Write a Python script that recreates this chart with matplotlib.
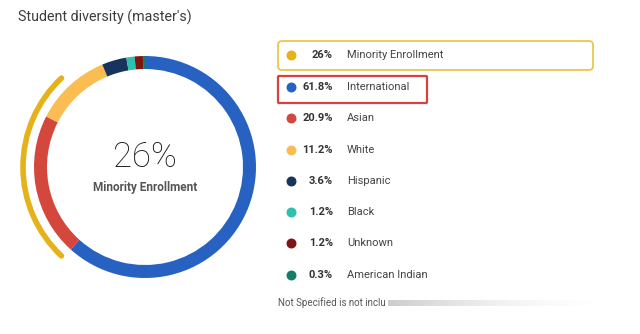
import matplotlib.pyplot as plt
from matplotlib.patches import Arc, FancyBboxPatch
import numpy as np

# data
groups = ['International', 'Asian', 'White', 'Hispanic', 'Black', 'Unknown', 'American Indian']
shares = [61.8, 20.9, 11.2, 3.6, 1.2, 1.2, 0.3]
group_colors = ['#2762c2', '#d3473d', '#fbbd52', '#17335e', '#2cc0ad', '#7b1712', '#177d6b']
legend_order = ['International', 'Asian', 'White', 'Hispanic', 'Black', 'Unknown', 'American Indian']
minority_share = 26
minority_color = '#e5b21a'

plt.rcParams['font.family'] = ['Roboto', 'DejaVu Sans']

fig = plt.figure(figsize=(6.4, 3.34), dpi=100)
W, H = 640, 334

# overlay axes in pixel coordinates for the text parts
bg = fig.add_axes([0, 0, 1, 1])
bg.set_xlim(0, W)
bg.set_ylim(H, 0)
bg.axis('off')

bg.text(18, 17, "Student diversity (master's)", fontsize=10.3, color='#3c3c3c',
        va='center', ha='left')

# donut
cx, cy, half = 145, 167, 130
ax = fig.add_axes([(cx - half) / W, (H - cy - half) / H, 2 * half / W, 2 * half / H])
ax.pie(shares, colors=group_colors, startangle=90, counterclock=False,
       radius=1.11, wedgeprops=dict(width=0.13, edgecolor='none'))
span = minority_share * 3.6
arc = Arc((0, 0), 2 * 1.22, 2 * 1.22, theta1=180 - span / 2, theta2=180 + span / 2,
          color=minority_color, lw=4, capstyle='round')
ax.add_patch(arc)
ax.set_xlim(-1.3, 1.3)
ax.set_ylim(-1.3, 1.3)
ax.set_aspect('equal')
ax.axis('off')

ax.text(0, 0.1, f'{minority_share}%', fontsize=25, color='#1a1a1a', ha='center',
        va='center', fontweight='light')
ax.text(0, -0.2, 'Minority Enrollment', fontsize=8.5, color='#555555', ha='center',
        va='center', fontweight='bold')

# legend rows
row_y = [55, 87, 118, 150, 181, 212, 243, 275]
rows = [('Minority Enrollment', minority_share, minority_color)]
for g in legend_order:
    i = groups.index(g)
    rows.append((g, shares[i], group_colors[i]))

bg.add_patch(FancyBboxPatch((278, 41), 315, 29, boxstyle='round,pad=0,rounding_size=4',
                            fc='none', ec='#e8c84a', lw=1.3))
bg.add_patch(FancyBboxPatch((278, 76), 149, 27, boxstyle='round,pad=0,rounding_size=1',
                            fc='none', ec='#d9403f', lw=1.6))

for (name, val, col), y in zip(rows, row_y):
    bg.scatter([291], [y], s=38, color=col, zorder=3)
    label = f'{val:g}%'
    bg.text(333, y, label, fontsize=8, fontweight='bold', color='#333333',
            ha='right', va='center')
    bg.text(347, y, name, fontsize=8, color='#444444', ha='left', va='center')

bg.text(278, 303, 'Not Specified is not inclu', fontsize=7, color='#555555',
        ha='left', va='center')
# blurred smear after the footnote
fade = np.linspace(0.6, 0.0, 200)[None, :] ** 1.8
smear = np.ones((1, 200, 4))
smear[..., :3] = 0.5
smear[..., 3] = fade
bg.imshow(smear, extent=(388, 610, 306, 300), aspect='auto', interpolation='bilinear')
bg.set_xlim(0, W)
bg.set_ylim(H, 0)

fig.savefig('out.png', dpi=100)
